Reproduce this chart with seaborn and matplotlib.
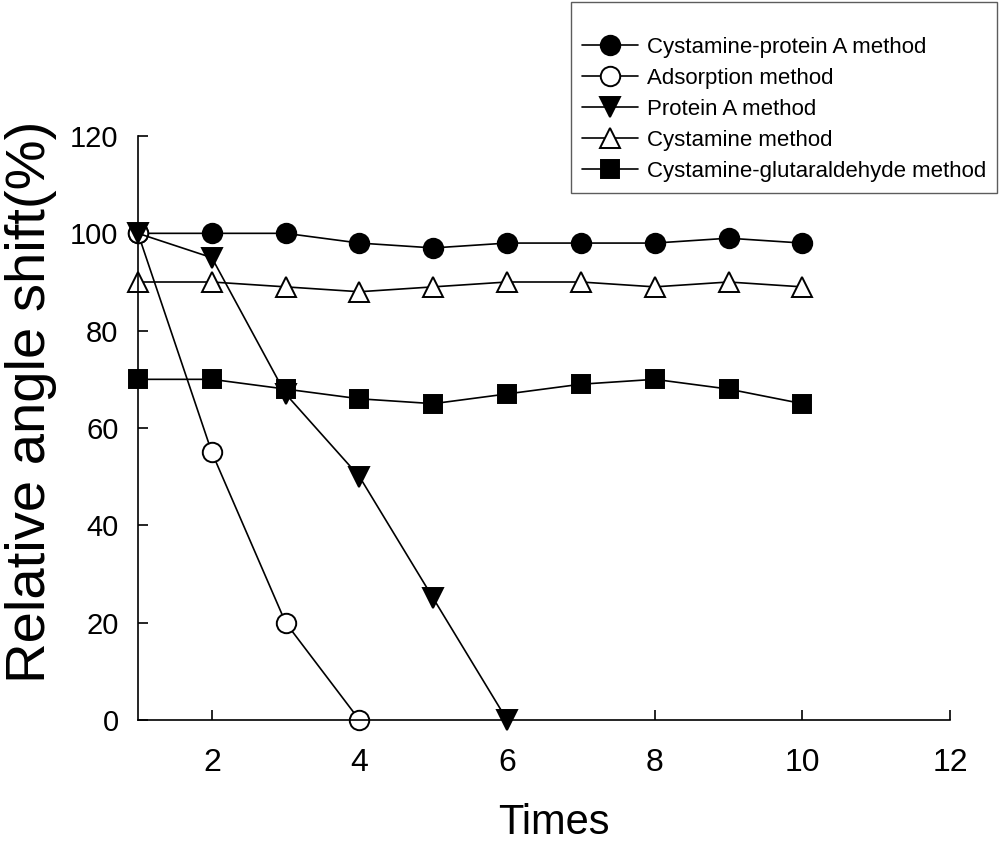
import matplotlib

matplotlib.use("Agg")

import matplotlib.pyplot as plt
import pandas as pd
import seaborn as sns

# Data
times = [1, 2, 3, 4, 5, 6, 7, 8, 9, 10]
cystamine_protein_a = [100, 100, 100, 98, 97, 98, 98, 98, 99, 98]
adsorption = [100, 55, 20, 0]
protein_a = [100, 95, 67, 50, 25, 0]
cystamine = [90, 90, 89, 88, 89, 90, 90, 89, 90, 89]
cystamine_glutaraldehyde = [70, 70, 68, 66, 65, 67, 69, 70, 68, 65]

series = [
    ("Cystamine-protein A method", cystamine_protein_a, "o", "black", 14),
    ("Adsorption method", adsorption, "o", "white", 14),
    ("Protein A method", protein_a, "v", "black", 14),
    ("Cystamine method", cystamine, "^", "white", 14),
    ("Cystamine-glutaraldehyde method", cystamine_glutaraldehyde, "s", "black", 13),
]

sns.set_theme(style="white")
plt.rcParams["font.family"] = ["Liberation Sans", "DejaVu Sans"]
plt.rcParams["text.color"] = "black"
plt.rcParams["axes.labelcolor"] = "black"
plt.rcParams["xtick.color"] = "black"
plt.rcParams["ytick.color"] = "black"

fig = plt.figure(figsize=(10.02, 8.43), dpi=100)
ax = fig.add_axes([138 / 1002, 123 / 843, 812 / 1002, 584 / 843])

for label, values, marker, face, ms in series:
    df = pd.DataFrame({"time": times[: len(values)], "value": values})
    sns.lineplot(
        data=df,
        x="time",
        y="value",
        marker=marker,
        markersize=ms,
        markerfacecolor=face,
        markeredgecolor="black",
        markeredgewidth=1.4,
        color="black",
        linewidth=1.2,
        label=label,
        clip_on=False,
        ax=ax,
    )

ax.set_xlim(1, 12)
ax.set_ylim(0, 120)
ax.set_xticks([2, 4, 6, 8, 10, 12])
ax.set_yticks([0, 20, 40, 60, 80, 100, 120])

for side in ["top", "right"]:
    ax.spines[side].set_visible(False)
for side in ["left", "bottom"]:
    ax.spines[side].set_color("black")
    ax.spines[side].set_linewidth(1.2)

ax.tick_params(axis="both", direction="in", length=7, width=1.2, color="black", left=True, bottom=True)
ax.tick_params(axis="y", labelsize=21, pad=14)
ax.tick_params(axis="x", labelsize=23, pad=20)

ax.set_xlabel("Times", fontsize=30)
ax.xaxis.set_label_coords(554 / 1002, 1 - 803 / 843, transform=fig.transFigure)
ax.xaxis.label.set_va("top")
ax.set_ylabel("Relative angle shift(%)", fontsize=40.5)
ax.yaxis.set_label_coords(31 / 1002, 1 - 402 / 843, transform=fig.transFigure)
ax.yaxis.label.set_va("center")
ax.grid(False)

leg = ax.legend(
    loc="upper right",
    bbox_to_anchor=(997 / 1002, 1 - 2 / 843),
    bbox_transform=fig.transFigure,
    fontsize=16,
    frameon=True,
    fancybox=False,
    shadow=False,
    handlelength=2.5,
    handletextpad=0.4,
    labelspacing=0.45,
    borderpad=0.5,
    borderaxespad=0,
    markerscale=1.0,
    title=" ",
    title_fontsize=10,
)
leg.get_frame().set_edgecolor("#333333")
leg.get_frame().set_linewidth(1.0)

fig.savefig("out.png", dpi=100, facecolor="white")
